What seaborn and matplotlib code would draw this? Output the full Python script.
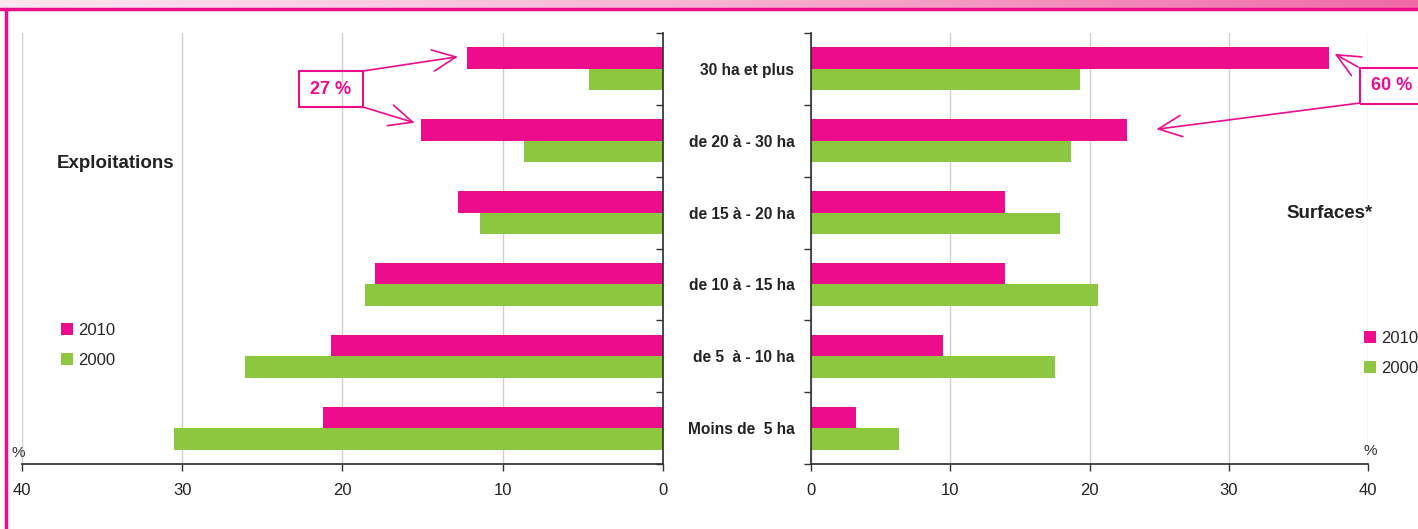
import numpy as np
import pandas as pd
import matplotlib
matplotlib.use('Agg')
import matplotlib.pyplot as plt
from matplotlib.patches import Patch, Rectangle
import seaborn as sns

sns.set_theme(style='white')
plt.rcParams['font.family'] = ['Liberation Sans', 'DejaVu Sans']

# data
categories = ['30 ha et plus', 'de 20 à - 30 ha', 'de 15 à - 20 ha',
              'de 10 à - 15 ha', 'de 5  à - 10 ha', 'Moins de  5 ha']
years = ['2010', '2000']
expl_2010 = [12.2, 15.1, 12.8, 18.0, 20.7, 21.2]
expl_2000 = [4.6, 8.7, 11.4, 18.6, 26.1, 30.5]
surf_2010 = [37.2, 22.7, 13.9, 13.9, 9.5, 3.2]
surf_2000 = [19.3, 18.7, 17.9, 20.6, 17.5, 6.3]
xticks = [0, 10, 20, 30, 40]

MAGENTA = '#EC0C8C'
GREEN = '#8DC63F'
pal = {'2010': MAGENTA, '2000': GREEN}

def long_df(v2010, v2000):
    return pd.DataFrame({
        'cat': categories * 2,
        'year': ['2010'] * 6 + ['2000'] * 6,
        'val': v2010 + v2000,
    })

df_expl = long_df(expl_2010, expl_2000)
df_surf = long_df(surf_2010, surf_2000)

W, H = 1418, 529
fig = plt.figure(figsize=(W / 100, H / 100), dpi=100)

def fx(px):
    return px / W

def fy(py):
    return 1 - py / H

# header band
hax = fig.add_axes([0, fy(8), 1, 8 / H])
grad = np.linspace(0, 1, 256).reshape(1, -1)
cmap = matplotlib.colors.LinearSegmentedColormap.from_list('hdr', ['#fce6f0', '#f7b3d2', '#f06aa8'])
hax.imshow(grad, aspect='auto', cmap=cmap)
hax.axis('off')
fig.add_artist(plt.Line2D([0, 1], [fy(9), fy(9)], color=MAGENTA, lw=2.5))
fig.add_artist(plt.Line2D([fx(5.5), fx(5.5)], [0, fy(9)], color=MAGENTA, lw=2.5))

ax1 = fig.add_axes([fx(22), fy(464), fx(663 - 22), (464 - 33) / H])
ax2 = fig.add_axes([fx(811), fy(464), fx(1368 - 811), (464 - 33) / H])

for ax, d in [(ax1, df_expl), (ax2, df_surf)]:
    sns.barplot(data=d, y='cat', x='val', hue='year', hue_order=years,
                palette=pal, orient='h', width=0.6, ax=ax, legend=False,
                saturation=1, linewidth=0)
    ax.set_xlim(0, 40)
    ax.set_ylim(5.5, -0.5)
    ax.set_xticks(xticks)
    ax.set_xticklabels([str(t) for t in xticks], fontsize=12, color='#222222')
    ax.grid(axis='x', color='#d0d0d0', lw=1)
    ax.set_axisbelow(True)
    ax.set_xlabel('')
    ax.set_ylabel('')
    for s in ['top', 'left', 'right']:
        ax.spines[s].set_visible(False)
    ax.spines['bottom'].set_color('#333333')
    ax.tick_params(axis='x', length=5, width=1, color='#333333', direction='out', pad=9, bottom=True)
    ax.set_yticks(np.arange(-0.5, 6, 1), minor=True)
    ax.tick_params(axis='y', which='minor', length=5, width=1, color='#333333')

# left panel (mirrored)
ax1.invert_xaxis()
ax1.spines['right'].set_visible(True)
ax1.spines['right'].set_color('#333333')
ax1.yaxis.tick_right()
ax1.set_yticks(range(6))
ax1.set_yticklabels([])
ax1.tick_params(axis='y', which='major', length=0)
ax1.tick_params(axis='y', which='minor', direction='in', right=True, left=False)

# right panel
ax2.spines['left'].set_visible(True)
ax2.spines['left'].set_color('#333333')
ax2.set_yticks(range(6))
ax2.set_yticklabels(categories, fontsize=11.2, fontweight='bold', color='#222222')
ax2.tick_params(axis='y', which='major', length=0, pad=12)
ax2.tick_params(axis='y', which='minor', direction='out', left=True)

# titles and units
fig.text(fx(116), fy(163), 'Exploitations', fontsize=13.5, fontweight='bold',
         ha='center', va='center', color='#222222')
fig.text(fx(1330), fy(214), 'Surfaces*', fontsize=13.5, fontweight='bold',
         ha='center', va='center', color='#222222')
fig.text(fx(11), fy(453), '%', fontsize=11, ha='left', va='center', color='#333333')
fig.text(fx(1364), fy(451), '%', fontsize=11, ha='left', va='center', color='#333333')

# legends
handles = [Patch(facecolor=pal[y], edgecolor='none', label=y) for y in years]
for x0, y0 in [(61, 323), (1364, 331)]:
    fig.legend(handles=handles, loc='upper left', bbox_to_anchor=(fx(x0), fy(y0)),
               frameon=False, fontsize=12, handlelength=0.7, handleheight=0.7,
               handletextpad=0.3, labelspacing=0.9, borderpad=0, borderaxespad=0)

# annotation boxes
fig.add_artist(Rectangle((fx(299), fy(107)), fx(363 - 299), (107 - 71) / H,
                         transform=fig.transFigure, fill=False, ec=MAGENTA, lw=1.5))
fig.text(fx(331), fy(89), '27 %', fontsize=13, fontweight='bold', color=MAGENTA,
         ha='center', va='center')
fig.add_artist(Rectangle((fx(1360), fy(104)), fx(80), (104 - 68) / H,
                         transform=fig.transFigure, fill=False, ec=MAGENTA, lw=1.5))
fig.text(fx(1392), fy(86), '60 %', fontsize=13, fontweight='bold', color=MAGENTA,
         ha='center', va='center')

arrow = dict(arrowstyle='->,head_length=1.2,head_width=0.55', color=MAGENTA,
             lw=1.2, mutation_scale=14, shrinkA=0, shrinkB=0)
for ax, tip, start in [
    (ax1, (12.8, -0.17), (363, 71)),
    (ax1, (15.5, 0.75), (363, 107)),
    (ax2, (37.6, -0.21), (1358, 67)),
    (ax2, (24.8, 0.84), (1360, 103)),
]:
    ax.annotate('', xy=tip, xycoords='data',
                xytext=(start[0], H - start[1]), textcoords='figure pixels',
                arrowprops=arrow, annotation_clip=False)

fig.savefig('out.png', dpi=100)
